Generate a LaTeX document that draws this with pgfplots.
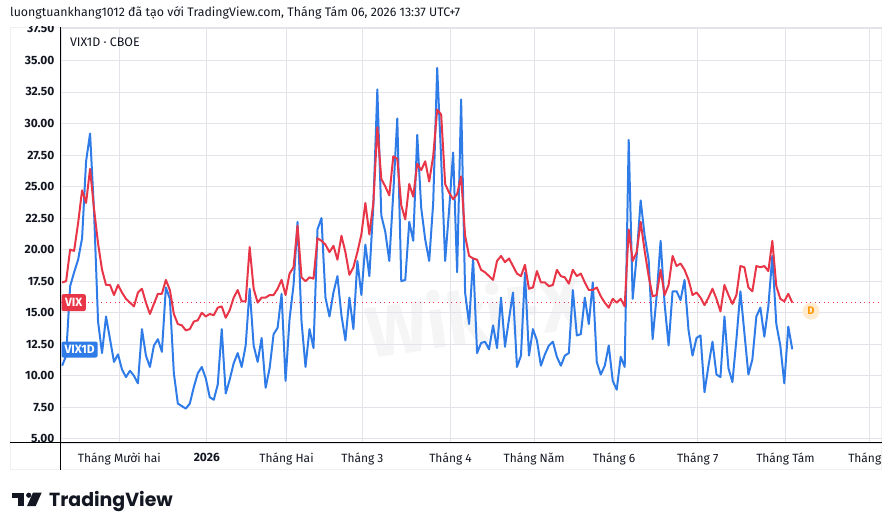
\documentclass[border=0pt]{standalone}
\usepackage{fontspec}
\setmainfont{Fira Sans}
\newfontfamily\tvfont{Poppins}
\usepackage{pgfplots}
\usepackage{pgfplotstable}
\pgfplotsset{compat=1.18}
\definecolor{vixred}{RGB}{232,54,72}
\definecolor{vixblue}{RGB}{47,124,232}
\definecolor{tvtext}{RGB}{19,23,34}
\definecolor{gridc}{RGB}{226,228,234}
\definecolor{dorange}{RGB}{255,152,0}
\definecolor{dfill}{RGB}{255,236,208}

% trading-day index k, VIX close, VIX1D close
\pgfplotstableread{
k vix vixod
0 17.4 10.8
1 17.5 11.6
2 20.0 17.1
3 19.9 18.2
4 22.1 19.2
5 24.7 20.9
6 23.7 27.0
7 26.4 29.2
8 23.2 23.0
9 20.5 14.3
10 18.4 11.8
11 17.2 14.7
12 17.2 12.9
13 16.4 11.1
14 17.2 11.7
15 16.6 10.5
16 16.1 9.9
17 15.8 10.4
18 15.5 10.0
19 16.6 9.4
20 16.9 13.7
21 15.8 11.6
22 14.9 10.7
23 15.7 12.4
24 16.5 12.9
25 16.5 11.9
26 17.6 17.0
27 16.8 16.1
28 14.9 10.2
29 14.1 7.8
30 14.0 7.6
31 13.6 7.4
32 13.7 7.8
33 14.3 9.1
34 14.4 10.2
35 15.0 10.7
36 14.7 9.8
37 14.9 8.3
38 14.8 8.1
39 15.4 9.3
40 15.5 13.7
41 14.6 8.6
42 15.2 9.7
43 16.2 11.0
44 16.8 11.8
45 15.9 10.7
46 15.9 12.4
47 20.2 16.9
48 16.9 12.4
49 15.8 11.1
50 16.2 13.0
51 16.2 9.05
52 16.4 10.6
53 16.4 13.3
54 16.9 13.8
55 17.6 16.5
56 16.4 9.6
57 18.1 14.5
58 18.6 17.2
59 21.9 22.2
60 17.8 14.3
61 17.5 10.7
62 17.8 13.7
63 17.7 12.2
64 20.9 21.6
65 20.7 22.5
66 20.4 16.2
67 19.8 14.7
68 20.3 16.6
69 19.2 17.9
70 21.1 14.8
71 19.8 12.8
72 18.0 16.2
73 18.6 13.7
74 19.8 19.1
75 21.2 16.4
76 23.7 20.4
77 21.2 17.9
78 23.7 23.5
79 29.7 32.7
80 25.6 22.7
81 25.0 21.4
82 24.3 19.1
83 27.4 24.5
84 27.2 30.4
85 23.5 17.5
86 22.4 17.6
87 25.2 22.2
88 24.2 20.7
89 26.8 29.1
90 26.3 23.3
91 27.0 20.8
92 25.4 19.1
93 27.4 23.7
94 31.1 34.4
95 30.7 27.2
96 25.2 19.1
97 24.5 23.2
98 24.0 27.7
99 24.4 18.2
100 25.8 31.9
101 21.1 16.6
102 19.5 14.1
103 19.3 19.3
104 19.2 11.8
105 18.4 12.6
106 18.2 12.7
107 17.9 12.1
108 17.6 14.0
109 19.1 12.2
110 19.5 16.2
111 19.0 12.3
112 19.3 14.5
113 18.7 16.6
114 18.1 10.7
115 17.9 11.6
116 18.8 18.2
117 16.9 11.6
118 17.0 13.7
119 18.3 12.8
120 17.4 10.8
121 17.4 11.7
122 17.1 12.4
123 17.2 12.7
124 18.4 11.5
125 17.9 10.8
126 17.8 11.6
127 17.3 11.8
128 18.4 16.8
129 17.9 13.2
130 18.1 13.3
131 17.4 16.2
132 16.8 14.1
133 16.8 17.4
134 17.0 11.1
135 16.3 10.1
136 15.8 10.8
137 15.4 12.4
138 16.1 9.6
139 15.8 8.9
140 16.1 11.5
141 15.5 10.7
142 21.6 28.7
143 19.1 16.1
144 19.8 19.5
145 22.2 23.9
146 19.9 21.1
147 17.9 19.2
148 16.3 12.9
149 16.4 16.3
150 18.4 20.7
151 16.4 15.7
152 17.2 12.4
153 19.5 16.7
154 18.7 16.7
155 18.9 16.0
156 18.4 17.6
157 17.6 13.6
158 16.4 11.6
159 16.6 13.0
160 16.2 13.2
161 15.6 8.7
162 16.2 10.8
163 16.9 12.7
164 16.1 10.1
165 15.1 9.9
166 17.2 14.7
167 16.4 10.6
168 15.7 9.5
169 16.4 12.9
170 18.7 16.7
171 18.6 13.4
172 17.0 10.1
173 16.7 11.3
174 18.7 14.7
175 18.6 15.4
176 18.7 13.1
177 18.3 15.5
178 20.7 19.5
179 17.1 14.1
180 16.1 12.4
181 15.9 9.4
182 16.5 13.9
183 15.8 12.1
}\vixtable

\begin{document}
\begin{tikzpicture}
\begin{scope}[x=1pt,y=1pt]
\useasboundingbox (0,0) rectangle (894,532);
\fill[white] (0,0) rectangle (894,532);
% chart frame
\draw[gray!12, line width=0.8pt] (10,61) rectangle (884,505);
% watermark
\node[text=gray, opacity=0.08, font=\bfseries\fontsize{72}{72}\selectfont, rotate=8] at (475,217) {WikiFX};
\end{scope}
\begin{axis}[
  at={(61pt,88pt)}, anchor=south west,
  width=823pt, height=417pt, scale only axis,
  xmin=-0.325, xmax=205.43,
  ymin=4.684, ymax=37.65,
  axis line style={draw=gridc},
  grid=major, grid style={draw=gridc, line width=0.8pt},
  major tick length=0pt,
  ytick={5,7.5,10,12.5,15,17.5,20,22.5,25,27.5,30,32.5,35,37.5},
  yticklabels={5.00,7.50,10.00,12.50,15.00,17.50,20.00,22.50,25.00,27.50,30.00,32.50,35.00,37.50},
  xtick={14.35,36.25,56.25,75.25,97.35,118.3,138.35,159.3,181.3,202.35},
  xticklabels={Tháng Mười hai,\textbf{2026},Tháng Hai,Tháng 3,Tháng 4,Tháng Năm,Tháng 6,Tháng 7,Tháng Tám,Tháng 9},
  yticklabel style={font=\fontsize{12}{14}\selectfont\bfseries, text=tvtext, xshift=-3pt},
  xticklabel style={font=\fontsize{12}{14}\selectfont, text=tvtext, yshift=-7pt},
  /pgf/number format/assume math mode=true,
  clip mode=individual,
]
\addplot[vixred, line width=0.8pt, dash pattern=on 1pt off 3.5pt] coordinates {(-0.325,15.8) (205.43,15.8)};
\addplot[vixblue, line width=2pt, line join=round] table[x=k, y=vixod] {\vixtable};
\addplot[vixred, line width=2pt, line join=round] table[x=k, y=vix] {\vixtable};
\node[fill=vixred, text=white, anchor=west, rounded corners=2pt, inner xsep=3.5pt, inner ysep=0pt, minimum height=17pt, font=\bfseries\fontsize{12}{14}\selectfont] at (axis cs:-0.2,15.8) {VIX};
\node[fill=vixblue, text=white, anchor=west, rounded corners=2pt, inner xsep=3pt, inner ysep=0pt, minimum height=16pt, font=\bfseries\fontsize{12}{14}\selectfont] at (axis cs:-0.2,12.08) {VIX1D};
\node[circle, fill=dfill, text=dorange, inner sep=1.5pt, minimum size=17pt, font=\bfseries\fontsize{11}{12}\selectfont] at (axis cs:187.7,15.12) {D};
\end{axis}
\begin{scope}[x=1pt,y=1pt]
% cover above chart and right of chart
\fill[white] (0,505.5) rectangle (894,532);
\fill[white] (884.6,61) rectangle (894,505.5);
\draw[black, line width=1pt] (61,505) -- (61,61);
\draw[black, line width=1pt] (10,88) -- (884,88);
% legend title
\node[anchor=west, inner sep=0pt, text=tvtext, font=\fontsize{12.5}{14}\selectfont] at (70,490) {VIX1D · CBOE};
% header
\node[anchor=west, inner sep=0pt, text=tvtext, font=\fontsize{12.4}{14}\selectfont] at (10,519.5) {luongtuankhang1012 đã tạo với TradingView.com, Tháng Tám 06, 2026 13:37 UTC+7};
% TradingView logo
\fill[tvtext] (12.3,38) rectangle (24,33);
\fill[tvtext] (18.3,38) rectangle (24,24.7);
\fill[tvtext] (28.8,35.5) circle (2.6);
\fill[tvtext] (33,38) -- (41.7,38) -- (35.8,24.7) -- (27.1,24.7) -- cycle;
\node[anchor=base west, inner sep=0pt, text=tvtext, font=\tvfont\bfseries\fontsize{19}{20}\selectfont] at (49,24.7) {TradingView};
\end{scope}
\end{tikzpicture}
\end{document}
